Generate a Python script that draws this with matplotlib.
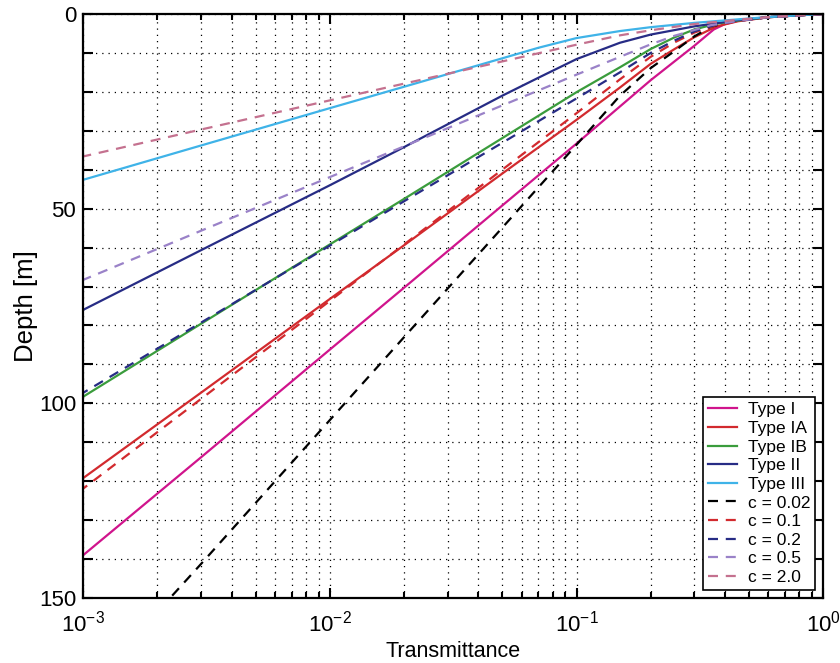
import numpy as np
import matplotlib.pyplot as plt
from matplotlib.ticker import LogLocator, NullFormatter

plt.rcParams['font.family'] = ['Liberation Sans', 'DejaVu Sans']
plt.rcParams['mathtext.fontset'] = 'custom'
plt.rcParams['mathtext.rm'] = 'Liberation Sans'

# transmittance (x) / depth in m (y)
type1_T = [1, 0.8, 0.6, 0.45, 0.4, 0.36, 0.3, 0.2, 0.1, 0.05, 0.02, 0.01, 0.003, 0.001]
type1_z = [0, 0.35, 0.85, 1.8, 2.6, 4.0, 8.2, 17.0, 33.3, 49.2, 70.3, 86.2, 113.9, 139.0]

type1a_T = [1, 0.8, 0.6, 0.45, 0.37, 0.3, 0.25, 0.2, 0.15, 0.1, 0.05, 0.02, 0.01, 0.003, 0.001]
type1a_z = [0, 0.35, 0.85, 1.9, 3.2, 6.0, 9.0, 12.8, 18.9, 27.2, 41.0, 59.4, 73.2, 97.3, 119.2]

type1b_T = [1, 0.8, 0.6, 0.45, 0.37, 0.3, 0.25, 0.2, 0.15, 0.1, 0.05, 0.02, 0.01, 0.003, 0.001]
type1b_z = [0, 0.35, 0.85, 1.7, 2.5, 4.0, 6.0, 9.0, 13.7, 20.1, 31.9, 47.5, 59.2, 79.6, 98.3]

type2_T = [1, 0.8, 0.6, 0.45, 0.3, 0.2, 0.15, 0.1, 0.07, 0.05, 0.02, 0.01, 0.003, 0.001]
type2_z = [0, 0.35, 0.8, 1.6, 3.2, 5.3, 7.4, 11.6, 16.4, 21.0, 34.2, 44.0, 60.7, 76.0]

type3_T = [1, 0.8, 0.6, 0.45, 0.3, 0.2, 0.15, 0.1, 0.07, 0.05, 0.02, 0.01, 0.003, 0.001]
type3_z = [0, 0.35, 0.8, 1.4, 2.3, 3.4, 4.4, 6.2, 8.7, 11.4, 18.7, 24.2, 33.8, 42.6]

c002_T = [1, 0.8, 0.6, 0.5, 0.42, 0.35, 0.3, 0.25, 0.2, 0.15, 0.1, 0.05, 0.02, 0.01, 0.003, 0.00225]
c002_z = [0, 0.35, 0.85, 1.4, 2.0, 3.3, 5.8, 9.5, 13.9, 21.0, 33.6, 54.9, 83.0, 104.3, 141.3, 150.0]

c01_T = [1, 0.8, 0.6, 0.45, 0.37, 0.3, 0.25, 0.2, 0.15, 0.1, 0.05, 0.02, 0.01, 0.003, 0.001]
c01_z = [0, 0.35, 0.85, 1.8, 2.8, 4.8, 7.3, 11.0, 16.8, 25.5, 40.0, 59.2, 73.7, 98.9, 121.9]

c02_T = [1, 0.8, 0.6, 0.45, 0.37, 0.3, 0.25, 0.2, 0.15, 0.1, 0.05, 0.02, 0.01, 0.003, 0.001]
c02_z = [0, 0.35, 0.85, 1.8, 2.7, 4.5, 6.8, 10.0, 15.0, 21.7, 33.1, 48.1, 59.5, 79.3, 97.3]

c05_T = [1, 0.8, 0.6, 0.45, 0.35, 0.25, 0.2, 0.14, 0.1, 0.05, 0.02, 0.01, 0.003, 0.001]
c05_z = [0, 0.35, 0.85, 1.8, 2.9, 5.6, 7.8, 11.8, 15.6, 23.5, 34.0, 41.9, 55.7, 68.3]

c2_T = [1, 0.8, 0.6, 0.45, 0.3, 0.2, 0.15, 0.1, 0.05, 0.02, 0.01, 0.003, 0.001]
c2_z = [0, 0.35, 0.8, 1.5, 2.6, 4.2, 5.5, 7.9, 12.2, 17.9, 22.2, 29.7, 36.6]

labels = ['Type I', 'Type IA', 'Type IB', 'Type II', 'Type III',
          'c = 0.02', 'c = 0.1', 'c = 0.2', 'c = 0.5', 'c = 2.0']
ytick_vals = list(range(0, 151, 10))
ytick_labels = ['0', '50', '100', '150']

magenta = '#d0148c'
red = '#d22a2e'
green = '#3a9c3c'
navy = '#272c85'
cyan = '#3fb3e8'
lavender = '#9a82c8'
mauve = '#c4718f'

fig = plt.figure(figsize=(8.4, 6.63), dpi=100)
ax = fig.add_axes([0.099, 0.098, 0.881, 0.881])

lw = 1.6
dash = (0, (4.5, 3.5))
ax.plot(type1_T, type1_z, color=magenta, lw=lw, label=labels[0])
ax.plot(type1a_T, type1a_z, color=red, lw=lw, label=labels[1])
ax.plot(type1b_T, type1b_z, color=green, lw=lw, label=labels[2])
ax.plot(type2_T, type2_z, color=navy, lw=lw, label=labels[3])
ax.plot(type3_T, type3_z, color=cyan, lw=lw, label=labels[4])
ax.plot(c002_T, c002_z, color='black', lw=lw, ls=dash, label=labels[5])
ax.plot(c01_T, c01_z, color=red, lw=lw, ls=dash, label=labels[6])
ax.plot(c02_T, c02_z, color=navy, lw=lw, ls=dash, label=labels[7])
ax.plot(c05_T, c05_z, color=lavender, lw=lw, ls=dash, label=labels[8])
ax.plot(c2_T, c2_z, color=mauve, lw=lw, ls=dash, label=labels[9])

ax.set_xscale('log')
ax.set_xlim(1e-3, 1)
ax.set_ylim(150, 0)
ax.xaxis.set_major_locator(LogLocator(base=10, numticks=10))
ax.xaxis.set_minor_locator(LogLocator(base=10, subs=np.arange(2, 10), numticks=10))
ax.xaxis.set_minor_formatter(NullFormatter())
ax.set_yticks(ytick_vals)
ax.set_yticklabels([str(v) if str(v) in ytick_labels else '' for v in ytick_vals])

ax.grid(True, which='major', color='black', ls=(0, (1, 4)), lw=0.9)
ax.grid(True, which='minor', axis='x', color='black', ls=(0, (1, 4)), lw=0.9)

ax.tick_params(which='both', direction='in', top=True, right=True, labelsize=16, width=1.5)
ax.tick_params(which='major', length=7)
ax.tick_params(which='minor', length=4)
ax.tick_params(axis='x', which='major', pad=9)
ax.tick_params(axis='y', which='major', pad=5)
for sp in ax.spines.values():
    sp.set_linewidth(1.6)

ax.set_xlabel('Transmittance', fontsize=15.5, labelpad=3)
ax.set_ylabel('Depth [m]', fontsize=18.5, labelpad=1)

leg = ax.legend(loc='lower right', fontsize=12.5, handlelength=1.7, labelspacing=0.2,
                borderpad=0.3, handletextpad=0.6, borderaxespad=0.45,
                fancybox=False, framealpha=1)
leg.get_frame().set_edgecolor('black')
leg.get_frame().set_linewidth(1.2)

fig.savefig('out.png', dpi=100)
